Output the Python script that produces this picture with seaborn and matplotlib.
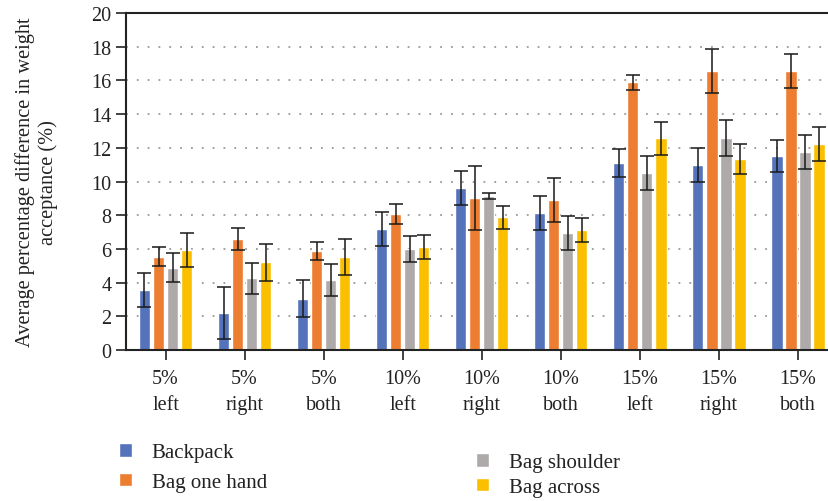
import numpy as np
import pandas as pd
import seaborn as sns
import matplotlib
matplotlib.use("Agg")
import matplotlib.pyplot as plt

categories = ["5%\nleft", "5%\nright", "5%\nboth", "10%\nleft", "10%\nright", "10%\nboth",
              "15%\nleft", "15%\nright", "15%\nboth"]
series = ["Backpack", "Bag one hand", "Bag shoulder", "Bag across"]
backpack = [3.56, 2.20, 3.03, 7.18, 9.61, 8.13, 11.10, 10.98, 11.51]
one_hand = [5.54, 6.59, 5.88, 8.07, 9.02, 8.90, 15.90, 16.56, 16.56]
shoulder = [4.89, 4.27, 4.15, 5.99, 9.14, 6.94, 10.50, 12.58, 11.75]
across = [5.93, 5.22, 5.52, 6.11, 7.87, 7.12, 12.56, 11.34, 12.23]
err_backpack = [1.03, 1.55, 1.10, 1.00, 1.00, 1.00, 0.85, 1.00, 0.95]
err_one_hand = [0.55, 0.68, 0.55, 0.60, 1.90, 1.30, 0.45, 1.30, 1.00]
err_shoulder = [0.88, 0.92, 0.96, 0.75, 0.17, 1.00, 1.00, 1.05, 1.00]
err_across = [1.00, 1.10, 1.06, 0.70, 0.68, 0.69, 1.00, 0.90, 1.00]
colors = ["#5473BB", "#ED7D31", "#ADAAA9", "#FAC000"]

values = [backpack, one_hand, shoulder, across]
errors = [err_backpack, err_one_hand, err_shoulder, err_across]

rows = []
for s, vals in zip(series, values):
    for c, v in zip(categories, vals):
        rows.append({"cat": c, "series": s, "value": v})
df = pd.DataFrame(rows)

sns.set_theme(style="white")
plt.rcParams["font.family"] = ["Liberation Serif", "DejaVu Serif"]

fig = plt.figure(figsize=(8.29, 5.02), dpi=100)
ax = fig.add_axes([126 / 829, 1 - 351 / 502, (837.5 - 126) / 829, (351 - 14) / 502])

sns.barplot(data=df, x="cat", y="value", hue="series", order=categories,
            hue_order=series, palette=colors, width=0.71, gap=0.2,
            errorbar=None, saturation=1, ax=ax, legend=True)

for cont, errs in zip(ax.containers, errors):
    xs = [b.get_x() + b.get_width() / 2 for b in cont]
    hs = [b.get_height() for b in cont]
    ax.errorbar(xs, hs, yerr=errs, fmt="none", ecolor="#1a1a1a", elinewidth=1.3,
                capsize=5, capthick=1.3, alpha=0.85, zorder=5)

ax.set_ylim(0, 20)
ax.set_xlim(-0.5, 8.5)
ax.set_yticks(np.arange(0, 21, 2))
ax.yaxis.grid(True, linestyle=(0, (1, 5)), color="#999999", linewidth=1.3)
ax.set_axisbelow(True)
for sp in ["left", "bottom", "top"]:
    ax.spines[sp].set_color("#222222")
    ax.spines[sp].set_linewidth(1.5)
ax.spines["right"].set_visible(False)
ax.tick_params(axis="both", which="major", direction="out", length=7, width=1.2,
               color="#222222", labelsize=14.5, labelcolor="#222222", left=True, bottom=True)
ax.tick_params(axis="x", pad=7)
for lbl in ax.get_xticklabels():
    lbl.set_linespacing(1.45)
ax.set_xlabel("")
ax.set_ylabel("Average percentage difference in weight\nacceptance (%)", fontsize=14.7,
              color="#222222", linespacing=1.2)
ax.yaxis.set_label_coords(-0.096, 0.5)

handles, labels = ax.get_legend_handles_labels()
ax.get_legend().remove()
leg_kw = dict(frameon=False, fontsize=15, handlelength=0.6, handleheight=0.6,
              handletextpad=0.95, borderaxespad=0, labelcolor="#222222")
leg1 = fig.legend(handles[:2], labels[:2], loc="upper left", labelspacing=0.52,
                  bbox_to_anchor=(111 / 829, 1 - 436 / 502), **leg_kw)
leg2 = fig.legend(handles[2:], labels[2:], loc="upper left", labelspacing=0.27,
                  bbox_to_anchor=(468 / 829, 1 - 446 / 502), **leg_kw)

fig.savefig("out.png", dpi=100)
